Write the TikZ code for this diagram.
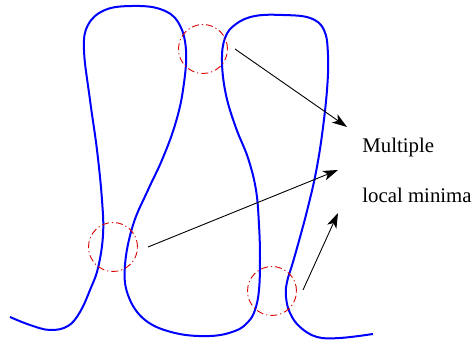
\documentclass[tikz,border=0pt]{standalone}
\usepackage{fontspec}
\setmainfont{Liberation Serif}
\usetikzlibrary{arrows.meta}
\begin{document}
\begin{tikzpicture}[x=0.5pt,y=-0.5pt,
  wire/.style={blue,line width=1pt,line join=round},
  ring/.style={draw=red!85!black,circle,line width=0.45pt,minimum size=24.5pt,inner sep=0pt,
    dash pattern=on 3.5pt off 1.5pt on 0.6pt off 1.5pt},
  pointer/.style={line width=0.45pt,-{Stealth[length=7.5pt,width=5pt,inset=2pt]}},
  lbl/.style={anchor=base west,inner sep=0pt,font=\fontsize{10.4}{12}\selectfont}]
\useasboundingbox (0,0) rectangle (472,341);
\draw[wire] plot[smooth,tension=0.65] coordinates {
 (10,317) (30,325) (50,330) (68,326) (80,312) (90,290) (98,268) (103,235) (102,200)
 (97,150) (90,100) (84,50) (88,25) (105,10) (132,6) (160,9) (178,22) (186,50)
 (183,90) (175,125) (162,160) (148,190) (133,225) (125,265) (128,295) (145,320)
 (175,333) (210,336) (235,331) (248,322) (255,310) (259,290) (260,258) (259,225)
 (256,190) (248,158) (236,128) (226,95) (222,62) (225,38) (236,24) (255,16) (283,15) (310,18)
 (324,30) (328,55) (327,90) (322,135) (316,172) (309,203) (302,230) (293,262) (287,282)
 (286,297) (290,313) (300,327) (317,337) (340,338) (373,334)};
\node[ring] (c1) at (203,49) {};
\node[ring] (c2) at (113,247) {};
\node[ring] (c3) at (272,291) {};
\coordinate (s1) at (235,49);
\coordinate (s2) at (148,247);
\coordinate (s3) at (303,290);
\coordinate (t1) at (347,127);
\coordinate (t2) at (338,170);
\coordinate (t3) at (338,213);
\draw[pointer] (s1) -- (t1);
\draw[pointer] (s2) -- (t2);
\draw[pointer] (s3) -- (t3);
\node[lbl] (m1) at (362,153) {Multiple};
\node[lbl] (m2) at (362,203) {local minima};
\end{tikzpicture}
\end{document}
